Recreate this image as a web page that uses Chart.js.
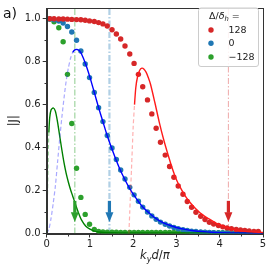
<!DOCTYPE html>
<html><head><meta charset="utf-8">
<script src="https://cdn.jsdelivr.net/npm/chart.js@4"></script>
<style>html,body{margin:0;padding:0;background:#fff}</style>
</head><body>
<canvas id="c" width="269" height="269"></canvas>
<script>
// ---- data ----
const kx = [0.07,0.17,0.28,0.38,0.48,0.58,0.69,0.79,0.89,0.99,1.10,1.20,1.30,1.40,1.51,1.61,1.71,1.81,1.92,2.02,2.12,2.22,2.33,2.43,2.53,2.63,2.74,2.84,2.94,3.04,3.15,3.25,3.35,3.45,3.56,3.66,3.76,3.86,3.97,4.07,4.17,4.27,4.38,4.48,4.58,4.68,4.79,4.89];
const red128 = [1.0,1.0,0.999,0.999,0.998,0.997,0.996,0.995,0.993,0.99,0.987,0.982,0.976,0.966,0.949,0.929,0.906,0.873,0.836,0.792,0.741,0.683,0.622,0.557,0.49,0.425,0.365,0.312,0.262,0.221,0.183,0.149,0.122,0.099,0.08,0.065,0.052,0.044,0.037,0.031,0.026,0.022,0.019,0.016,0.014,0.012,0.010,0.009];
const blue0 = [0.999,0.995,0.989,0.98,0.964,0.938,0.9,0.85,0.789,0.726,0.657,0.586,0.521,0.456,0.398,0.345,0.296,0.254,0.215,0.18,0.15,0.123,0.1,0.082,0.066,0.053,0.043,0.035,0.028,0.022,0.018,0.014,0.011,0.009,0.007,0.006,0.005,0.004,0.003,0.003,0.002,0.002,0.002,0.001,0.001,0.001,0.001,0.001];
const greenM128 = [0.999,0.986,0.958,0.893,0.741,0.512,0.304,0.168,0.089,0.043,0.019,0.01,0.007,0.006,0.006,0.006,0.005,0.005,0.005,0.005,0.005,0.005,0.005,0.005,0.005,0.005,0.005,0.005,0.005,0.005,0.005,0.005,0.005,0.005,0.005,0.005,0.004,0.004,0.004,0.004,0.004,0.004,0.004,0.004,0.004,0.004,0.004,0.004];

const redCurveX = [1.9,1.92,1.94,1.96,1.98,2.0,2.03,2.06,2.1,2.15,2.2,2.25,2.3,2.35,2.4,2.5,2.6,2.7,2.8,2.9,3.0,3.1,3.2,3.3,3.4,3.5,3.6,3.7,3.8,3.9,4.0,4.2,4.4,4.6,4.8,5.0];
const redCurveY = [0,0.1,0.2,0.3,0.4,0.5,0.6,0.68,0.73,0.76,0.77,0.765,0.75,0.725,0.695,0.61,0.52,0.44,0.37,0.305,0.25,0.21,0.175,0.148,0.125,0.105,0.088,0.074,0.062,0.05,0.04,0.026,0.016,0.01,0.007,0.005];
const blueCurveX = [0,0.05,0.1,0.15,0.2,0.25,0.3,0.35,0.4,0.45,0.5,0.55,0.6,0.65,0.7,0.75,0.8,0.9,1.0,1.1,1.2,1.3,1.4,1.5,1.6,1.7,1.8,1.9,2.0,2.2,2.4,2.6,2.8,3.0,3.2,3.4,3.6,3.8,4.0,4.5,5.0];
const blueCurveY = [0,0.02,0.07,0.14,0.22,0.33,0.44,0.54,0.63,0.71,0.77,0.815,0.843,0.855,0.857,0.852,0.838,0.789,0.727,0.657,0.586,0.52,0.455,0.398,0.345,0.296,0.254,0.216,0.183,0.128,0.09,0.06,0.041,0.028,0.019,0.013,0.009,0.006,0.004,0.002,0.001];
const greenCurveX = [0,0.01,0.02,0.03,0.04,0.05,0.07,0.1,0.15,0.2,0.25,0.3,0.35,0.4,0.45,0.5,0.55,0.6,0.65,0.7,0.75,0.8,0.9,1.0,1.1,1.2,1.5,2,3,4,5];
const greenCurveY = [0,0.1,0.2,0.3,0.4,0.47,0.54,0.575,0.585,0.57,0.52,0.455,0.39,0.33,0.28,0.24,0.205,0.175,0.145,0.115,0.088,0.065,0.035,0.02,0.011,0.007,0.004,0.003,0.003,0.003,0.003];
const dashSplit = [2.03, 0.6, 0.05];   // red, blue, green: dashed below, solid above

const markerX = [0.65, 1.45, 4.2];     // green, blue, red vertical lines / arrows
const arrowY = [0.152, 0.099, 0.054];  // shaft top, head base, tip

const xTicks = [0,1,2,3,4,5];
const xTickLabels = ['0','1','2','3','4','5'];
const yTicks = [0,0.2,0.4,0.6,0.8,1.0];
const yTickLabels = ['0.0','0.2','0.4','0.6','0.8','1.0'];
const xMinor = [0.5,1.5,2.5,3.5,4.5];
const yMinor = [0.1,0.3,0.5,0.7,0.9];
const legendLabels = ['128','0','\u2212128'];

// ---- styles ----
const dotColors = ['#d62728','#1f77b4','#2ca02c'];
const curveColors = ['#ff1a1a','#0000ff','#008000'];
const curveDashColors = ['rgba(255,60,60,0.4)','rgba(40,40,255,0.4)','rgba(0,150,0,0.4)'];
const vColors = ['rgba(44,160,44,0.45)','rgba(31,119,180,0.35)','rgba(214,39,40,0.4)'];
const vWidths = [1.2, 2.2, 1.0];
const arrowColors = ['#2ca02c','#1f77b4','#d62728'];
const FONT = "'DejaVu Sans', sans-serif";

function pts(xs, ys){ return xs.map((x,i)=>({x:x, y:ys[i]})); }

const datasets = [];
// curves (top)
[[redCurveX,redCurveY],[blueCurveX,blueCurveY],[greenCurveX,greenCurveY]].forEach((c,i)=>{
  const split = dashSplit[i];
  datasets.push({
    type:'scatter', data: pts(c[0], c[1]), showLine:true, pointRadius:0,
    borderColor: curveColors[i], borderWidth: 1.4, tension:0.25, order: 1,
    segment:{
      borderDash: ctx => ctx.p1.parsed.x <= split ? [4,2.5] : [],
      borderWidth: ctx => ctx.p1.parsed.x <= split ? 1.2 : 1.4,
      borderColor: ctx => ctx.p1.parsed.x <= split ? curveDashColors[i] : curveColors[i]
    }
  });
});
// dots
[red128, blue0, greenM128].forEach((ys,i)=>{
  datasets.push({type:'scatter', data: pts(kx, ys), pointRadius:2.7, pointBorderWidth:0,
    backgroundColor: dotColors[i], borderColor: dotColors[i], order: 5});
});
// vertical dash-dot lines
markerX.forEach((x,i)=>{
  datasets.push({type:'scatter', data:[{x:x,y:0},{x:x,y:1.05}], showLine:true, pointRadius:0,
    borderColor: vColors[i], borderWidth: vWidths[i], borderDash:[6,2,1.5,2], order: 10});
});

const deco = {
  id:'deco',
  afterDraw(chart){
    const c = chart.ctx, a = chart.chartArea, xs = chart.scales.x, ys = chart.scales.y;
    c.save();
    // arrows
    markerX.forEach((x,i)=>{
      const px = xs.getPixelForValue(x);
      const y0 = ys.getPixelForValue(arrowY[0]), y1 = ys.getPixelForValue(arrowY[1]), y2 = ys.getPixelForValue(arrowY[2]);
      c.fillStyle = arrowColors[i];
      c.fillRect(px-1.6, y0, 3.2, y1-y0+0.5);
      c.beginPath(); c.moveTo(px-4, y1); c.lineTo(px+4, y1); c.lineTo(px, y2); c.closePath(); c.fill();
    });
    // frame
    c.strokeStyle = '#333'; c.lineWidth = 1;
    c.strokeRect(Math.round(a.left)+0.5, Math.round(a.top)+0.5, Math.round(a.right)-Math.round(a.left), Math.round(a.bottom)-Math.round(a.top));
    // minor ticks
    c.beginPath();
    xMinor.forEach(v=>{const p=Math.round(xs.getPixelForValue(v))+0.5; c.moveTo(p, Math.round(a.bottom)); c.lineTo(p, Math.round(a.bottom)+2.5);});
    yMinor.forEach(v=>{const p=Math.round(ys.getPixelForValue(v))+0.5; c.moveTo(Math.round(a.left), p); c.lineTo(Math.round(a.left)-2.5, p);});
    c.stroke();
    // legend box
    const bx=198, by=7.5, bw=60, bh=58.5;
    c.fillStyle='rgba(255,255,255,0.85)'; c.strokeStyle='#cccccc';
    c.beginPath(); c.roundRect(bx+0.5,by+0.5,bw,bh,2.5); c.fill(); c.stroke();
    // legend title  Δ/δ_h =
    c.fillStyle='#222'; c.textBaseline='alphabetic';
    let tx = 209, tb = 18.5;
    c.font = "9.5px "+FONT; c.fillText('\u0394/', tx, tb); tx += c.measureText('\u0394/').width;
    c.font = "italic 9.5px "+FONT; c.fillText('\u03b4', tx, tb); tx += c.measureText('\u03b4').width;
    c.font = "italic 6.8px "+FONT; c.fillText('h', tx, tb+2); tx += c.measureText('h').width;
    c.font = "9.5px "+FONT; c.fillText(' =', tx, tb);
    // legend entries
    const ly = [30, 43.3, 57];
    legendLabels.forEach((t,i)=>{
      c.fillStyle = dotColors[i];
      c.beginPath(); c.arc(211, ly[i], 2.7, 0, Math.PI*2); c.fill();
      c.fillStyle = '#222'; c.font = "9.5px "+FONT; c.textBaseline='middle';
      c.fillText(t, 228.5, ly[i]+0.5);
    });
    // x title k_y d/π
    c.textBaseline='alphabetic'; c.fillStyle='#222';
    const parts = [["italic 11.5px ","k",0],["italic 8px ","y",3],["italic 11.5px ","d",0],["11.5px ","/",0],["italic 11.5px ","\u03c0",0]];
    let w=0; parts.forEach(p=>{c.font=p[0]+FONT; w+=c.measureText(p[1]).width;});
    let x0 = (a.left+a.right)/2 - w/2;
    parts.forEach(p=>{c.font=p[0]+FONT; c.fillText(p[1], x0, 259+p[2]); x0+=c.measureText(p[1]).width;});
    // y title |J|
    c.save(); c.translate(17, (a.top+a.bottom)/2); c.rotate(-Math.PI/2);
    c.font = "11.5px "+FONT; c.textAlign='center'; c.fillText('|J|', 0, 0); c.restore();
    // panel label
    c.font = "14px "+FONT; c.fillStyle='#111'; c.textAlign='left'; c.fillText('a)', 3, 18);
    c.restore();
  }
};

new Chart(document.getElementById('c'), {
  data:{datasets},
  options:{
    responsive:false, animation:false, devicePixelRatio:1,
    layout:{padding:{top:3,right:6,left:0,bottom:0}},
    plugins:{legend:{display:false}, tooltip:{enabled:false}},
    scales:{
      x:{type:'linear', min:0, max:5,
        afterBuildTicks: s=>{ s.ticks = xTicks.map(v=>({value:v})); },
        afterFit: s=>{ s.height = 35.5; },
        ticks:{callback:(v)=>{const i=xTicks.indexOf(v); return i>=0?xTickLabels[i]:'';},
          font:{family:FONT,size:10}, color:'#222', padding:1, maxRotation:0, autoSkip:false},
        grid:{drawOnChartArea:false, tickLength:4, color:'#333'},
        border:{color:'#333'}},
      y:{type:'linear', min:0, max:1.05,
        afterBuildTicks: s=>{ s.ticks = yTicks.map(v=>({value:v})); },
        afterFit: s=>{ s.width = 46.7; },
        ticks:{callback:(v)=>{const i=yTicks.findIndex(t=>Math.abs(t-v)<1e-9); return i>=0?yTickLabels[i]:'';},
          font:{family:FONT,size:10}, color:'#222', padding:2, autoSkip:false},
        grid:{drawOnChartArea:false, tickLength:4, color:'#333'},
        border:{color:'#333'}}
    }
  },
  plugins:[deco]
});
</script>
</body></html>
